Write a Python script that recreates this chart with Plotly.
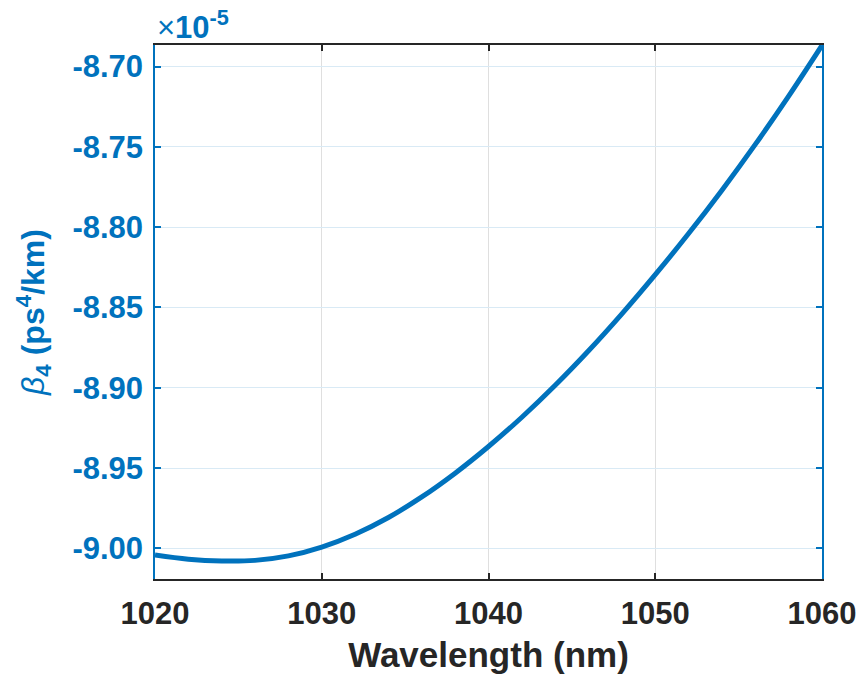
import plotly.graph_objects as go

# Wavelength (nm)
wavelength = [1020, 1022, 1024, 1026, 1028, 1030, 1032, 1034, 1036, 1038, 1040,
              1042, 1044, 1046, 1048, 1050, 1052, 1054, 1056, 1058, 1060]
# beta4 in units of 1e-5 ps^4/km
beta4 = [-9.0042, -9.0068, -9.0079, -9.0075, -9.0047, -8.9992, -8.9912, -8.9808,
         -8.9680, -8.9532, -8.9366, -8.9184, -8.8985, -8.8770, -8.8540, -8.8296,
         -8.8040, -8.7770, -8.7485, -8.7184, -8.6868]

x_ticks = [1020, 1030, 1040, 1050, 1060]
y_ticks = [-9.00, -8.95, -8.90, -8.85, -8.80, -8.75, -8.70]
y_tick_text = ["-9.00", "-8.95", "-8.90", "-8.85", "-8.80", "-8.75", "-8.70"]

BLUE = "#0072BD"
DARK = "#262626"
FONT = "Liberation Sans, Arial, sans-serif"

fig = go.Figure()
fig.add_trace(go.Scatter(x=wavelength, y=beta4, mode="lines",
                         line=dict(color=BLUE, width=5, shape="spline"),
                         showlegend=False))

fig.update_layout(
    width=858, height=679,
    margin=dict(l=155, r=36, t=45, b=100),
    paper_bgcolor="white", plot_bgcolor="white",
    font=dict(family=FONT),
)
fig.update_xaxes(
    range=[1020, 1060], tickvals=x_ticks, automargin=False,
    showline=True, linecolor=DARK, linewidth=1.5, mirror="ticks",
    ticks="inside", ticklen=6, tickcolor=DARK, tickwidth=1.5,
    showgrid=True, gridcolor="#DFDFDF", gridwidth=1,
    zeroline=False,
    tickfont=dict(size=31, color=DARK, family=FONT, weight="bold"),
    ticklabelstandoff=6,
    title=dict(text="Wavelength (nm)", standoff=13,
               font=dict(size=35, color=DARK, family=FONT, weight="bold")),
)
fig.update_yaxes(
    range=[-9.0191, -8.6866], tickvals=y_ticks, ticktext=y_tick_text, automargin=False,
    showline=True, linecolor=BLUE, linewidth=1.5, mirror="ticks",
    ticks="inside", ticklen=6, tickcolor=BLUE, tickwidth=1.5,
    showgrid=True, gridcolor="#D9EAF5", gridwidth=1,
    zeroline=False,
    tickfont=dict(size=31, color=BLUE, family=FONT, weight="bold"),
    ticklabelstandoff=4,
    title=dict(text="<i>β</i><sub><b>4</b></sub><b> (ps<sup>4</sup>/km)</b>", standoff=18,
               font=dict(size=32, color=BLUE, family=FONT)),
)
fig.add_annotation(
    xref="paper", yref="paper", x=0, y=1, xanchor="left", yanchor="bottom",
    text="×<b>10<sup>-5</sup></b>", showarrow=False, yshift=-2,
    font=dict(size=31, color=BLUE, family=FONT),
)

fig.write_html(
    "out.html",
    config={"displayModeBar": False},
    post_script="document.body.style.margin='0';document.body.style.overflow='hidden';",
)
